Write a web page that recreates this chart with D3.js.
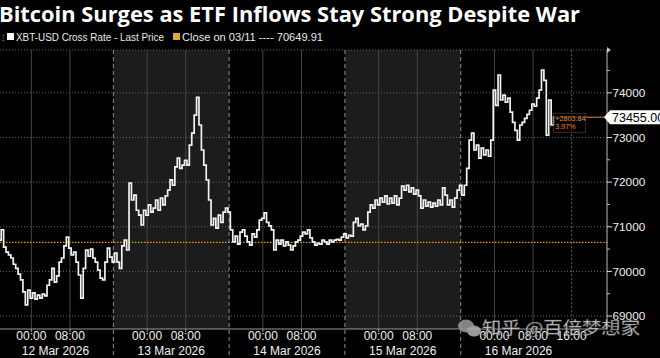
<!DOCTYPE html>
<html><head><meta charset="utf-8">
<script src="https://cdn.jsdelivr.net/npm/d3@7"></script>
<style>html,body{margin:0;padding:0;background:#000;}svg{display:block;}</style>
</head><body>
<svg id="c" width="660" height="358"></svg>
<script>
const title = "Bitcoin Surges as ETF Inflows Stay Strong Despite War";
const seriesName = "XBT-USD Cross Rate - Last Price";
const closeName = "Close on 03/11 ---- 70649.91";
const closeValue = 70649.91;
const lastLabel = "73455.00";
const changeLabels = ["+2803.84", "3.97%"];
const startTime = Date.UTC(2026, 2, 11, 17, 30);
const stepMinutes = 30;
const prices = [
70700,70930,70545,70430,70370,70300,70160,70070,69940,69810,
69540,69250,69580,69400,69520,69380,69470,69400,69490,69450,
69690,69810,70070,69760,69900,70210,70300,70570,70770,70520,
70370,70430,70210,69920,69400,70070,70480,70340,70500,70300,
70210,70030,69850,69810,70210,70520,70320,70210,70410,70210,
70070,70570,70700,70480,71980,71600,71710,71370,71260,71040,
71370,71260,71490,71330,71420,71600,71370,71640,71490,71690,
71820,72050,71930,72340,72540,72310,72380,72490,72380,72830,
73100,73500,73900,73280,72720,72380,72050,71600,71040,71190,
70970,71260,71100,71330,71420,71330,70930,70660,70790,70610,
70880,70930,70790,70660,70590,70840,70770,70930,71150,71190,
71310,71100,71020,70930,70480,70700,70610,70700,70570,70660,
70590,70480,70570,70660,70700,70790,70880,70840,70930,70750,
70660,70590,70630,70610,70700,70660,70610,70700,70660,70700,
70720,70700,70770,70840,70750,70810,70790,71100,71190,71020,
71060,70930,71020,71330,71490,71420,71600,71490,71640,71550,
71690,71510,71640,71530,71690,71490,71640,71910,71820,71930,
71780,71870,71730,71820,71690,71420,71600,71460,71550,71440,
71530,71460,71600,71490,71870,71710,71490,71600,71440,71640,
71820,71930,71710,71930,72310,72940,73100,72720,72830,72540,
72760,72610,72720,72580,72940,74060,73720,74400,73840,73950,
73790,73880,73570,73340,73160,72940,73280,73340,73430,73520,
73610,73750,73700,73880,74060,74510,74280,73050,73840,73280,
73455];
const yTicks = [69000, 70000, 71000, 72000, 73000, 74000];
const dayLabels = ["12 Mar 2026", "13 Mar 2026", "14 Mar 2026", "15 Mar 2026", "16 Mar 2026"];
const dayDates = [12, 13, 14, 15, 16];
const hourTicks = [0, 8];
const lastDayExtraHour = 16;
const shadedDays = [13, 15];
const watermark = "知乎 @百倍梦想家";

const svg = d3.select("#c");
const W = 660, H = 358;
const plot = {left: 0, right: 607, top: 50, bottom: 329};
const data = prices.map((p, i) => ({t: new Date(startTime + i * stepMinutes * 60000), v: p}));

const x = d3.scaleUtc()
  .domain([new Date(Date.UTC(2026, 2, 11, 17, 30)), new Date(Date.UTC(2026, 2, 16, 23, 20))])
  .range([plot.left, plot.right]);
const y = d3.scaleLinear().domain([68710, 74960]).range([plot.bottom, plot.top]);

svg.append("rect").attr("width", W).attr("height", H).attr("fill", "#000");

const g = svg.append("g");
const sess = d => new Date(Date.UTC(2026, 2, d - 1, 17, 0));
shadedDays.forEach(d => {
  g.append("rect").attr("x", x(sess(d))).attr("y", plot.top)
    .attr("width", x(sess(d + 1)) - x(sess(d))).attr("height", plot.bottom - plot.top)
    .attr("fill", "#1c1c1c");
});
const vTicks = [];
dayDates.forEach(d => hourTicks.forEach(h => vTicks.push(new Date(Date.UTC(2026, 2, d, h)))));
vTicks.push(new Date(Date.UTC(2026, 2, 16, lastDayExtraHour)));
g.selectAll(".vg").data(vTicks).enter().append("line")
  .attr("x1", d => x(d)).attr("x2", d => x(d)).attr("y1", plot.top).attr("y2", plot.bottom)
  .attr("stroke", d => d.getUTCHours() === 16 ? "#5a5a5a" : "#444").attr("stroke-width", 1)
  .attr("stroke-dasharray", d => d.getUTCHours() === 16 ? "2,2" : null);
const hGrid = yTicks.concat([y.invert(plot.top)]);
g.selectAll(".hg").data(hGrid).enter().append("line")
  .attr("x1", plot.left).attr("x2", plot.right).attr("y1", d => y(d)).attr("y2", d => y(d))
  .attr("stroke", "#666").attr("stroke-width", 1).attr("stroke-dasharray", "1,2");
const seps = [13, 14, 15, 16].map(sess);
g.selectAll(".sep").data(seps).enter().append("line")
  .attr("x1", d => x(d)).attr("x2", d => x(d)).attr("y1", plot.top).attr("y2", H)
  .attr("stroke", "#8a8a8a").attr("stroke-width", 1).attr("stroke-dasharray", "4,3");
g.append("line").attr("x1", plot.left).attr("x2", plot.right)
  .attr("y1", y(closeValue)).attr("y2", y(closeValue))
  .attr("stroke", "#d69a3a").attr("stroke-width", 1.2).attr("stroke-dasharray", "1.5,1.5");

// price line (stepped, like the terminal's tick rendering)
g.append("path").datum(data)
  .attr("d", d3.line().x(d => x(d.t)).y(d => y(d.v)).curve(d3.curveStep))
  .attr("fill", "none").attr("stroke", "#f2f2f2").attr("stroke-width", 1.7);

const last = data[data.length - 1];
g.append("line").attr("x1", x(last.t)).attr("x2", plot.right + 2)
  .attr("y1", y(last.v)).attr("y2", y(last.v)).attr("stroke", "#d98c4a").attr("stroke-width", 1);
const ax = x(last.t) - 1, ay = y(last.v) - 4;
g.append("rect").attr("x", ax).attr("y", ay).attr("width", 32).attr("height", 19)
  .attr("fill", "#000").attr("fill-opacity", 0.6).attr("stroke", "#6b4a2a").attr("stroke-width", 0.6);
g.append("text").attr("x", ax + 1.5).attr("y", ay + 7.5).text(changeLabels[0])
  .attr("fill", "#e0894a").attr("font-family", "Liberation Sans, Arial").attr("font-size", 7.2);
g.append("text").attr("x", ax + 1.5).attr("y", ay + 16).text(changeLabels[1])
  .attr("fill", "#e0894a").attr("font-family", "Liberation Sans, Arial").attr("font-size", 7.2);

const yAxisG = svg.append("g");
yAxisG.append("line").attr("x1", plot.right).attr("x2", plot.right).attr("y1", plot.top).attr("y2", plot.bottom)
  .attr("stroke", "#bdbdbd").attr("stroke-width", 1);
yAxisG.append("path").attr("d", `M${plot.right},${plot.top - 3}L${plot.right + 4},${plot.top}L${plot.right},${plot.top + 3}Z`)
  .attr("fill", "#bdbdbd");
const minor = d3.range(68500, 75000, 500).filter(v => v > y.domain()[0] && v < y.domain()[1] && v % 1000 !== 0);
yAxisG.selectAll(".mt").data(minor).enter().append("line")
  .attr("x1", plot.right).attr("x2", plot.right + 3).attr("y1", d => y(d)).attr("y2", d => y(d))
  .attr("stroke", "#bdbdbd");
yAxisG.selectAll(".Mt").data(yTicks).enter().append("line")
  .attr("x1", plot.right).attr("x2", plot.right + 5).attr("y1", d => y(d)).attr("y2", d => y(d))
  .attr("stroke", "#dcdcdc");
yAxisG.selectAll(".yl").data(yTicks).enter().append("text")
  .attr("x", plot.right + 5.5).attr("y", d => y(d) + 4.3).text(d => d)
  .attr("fill", "#f0f0f0").attr("font-family", "Liberation Sans, Arial").attr("font-size", 11.8);
const ly = y(last.v);
yAxisG.append("path")
  .attr("d", `M${plot.right - 3},${ly}L${plot.right + 3},${ly - 7}L${W},${ly - 7}L${W},${ly + 7}L${plot.right + 3},${ly + 7}Z`)
  .attr("fill", "#ffffff");
yAxisG.append("text").attr("x", plot.right + 5).attr("y", ly + 4.5).text(lastLabel)
  .attr("fill", "#000").attr("font-family", "Liberation Sans, Arial").attr("font-size", 12.5);

const xAxisG = svg.append("g");
xAxisG.append("line").attr("x1", plot.left).attr("x2", plot.right).attr("y1", plot.bottom).attr("y2", plot.bottom)
  .attr("stroke", "#9a9a9a");
xAxisG.selectAll(".xt").data(vTicks).enter().append("line")
  .attr("x1", d => x(d)).attr("x2", d => x(d)).attr("y1", plot.bottom).attr("y2", plot.bottom + 3)
  .attr("stroke", "#9a9a9a");
xAxisG.selectAll(".xl").data(vTicks).enter().append("text")
  .attr("x", d => x(d)).attr("y", 340).attr("text-anchor", "middle")
  .text(d => d3.utcFormat("%H:%M")(d))
  .attr("fill", "#f0f0f0").attr("font-family", "Liberation Sans, Arial").attr("font-size", 12);
xAxisG.selectAll(".dl").data(dayDates).enter().append("text")
  .attr("x", d => (x(sess(d)) + x(sess(d + 1))) / 2).attr("y", 355).attr("text-anchor", "middle")
  .text((d, i) => dayLabels[i])
  .attr("fill", "#f0f0f0").attr("font-family", "Liberation Sans, Arial").attr("font-size", 12);

svg.append("text").attr("x", -1).attr("y", 22).text(title)
  .attr("fill", "#ffffff").attr("font-family", "Open Sans, Liberation Sans, Arial").attr("font-weight", "bold")
  .attr("font-size", 21).attr("textLength", 581).attr("lengthAdjust", "spacingAndGlyphs");

svg.append("text").attr("x", 2).attr("y", 41).text("⁝").attr("fill", "#999").attr("font-size", 9);
svg.append("rect").attr("x", 7).attr("y", 33).attr("width", 7).attr("height", 7).attr("fill", "#ffffff");
svg.append("text").attr("x", 16).attr("y", 40.5).text(seriesName)
  .attr("fill", "#eaeaea").attr("font-family", "Liberation Sans, Arial").attr("font-size", 10)
  .attr("textLength", 148).attr("lengthAdjust", "spacingAndGlyphs");
svg.append("rect").attr("x", 173).attr("y", 33).attr("width", 7).attr("height", 7).attr("fill", "#e8a22e");
svg.append("text").attr("x", 182).attr("y", 40.5).text(closeName)
  .attr("fill", "#eaeaea").attr("font-family", "Liberation Sans, Arial").attr("font-size", 10)
  .attr("textLength", 141).attr("lengthAdjust", "spacingAndGlyphs");

const wm = svg.append("g").attr("opacity", 0.85);
wm.append("ellipse").attr("cx", 466).attr("cy", 326).attr("rx", 8).attr("ry", 6.5).attr("fill", "#9a9a9a");
wm.append("ellipse").attr("cx", 474).attr("cy", 331).attr("rx", 7).attr("ry", 5.5).attr("fill", "#b5b5b5");
wm.append("text").attr("x", 482).attr("y", 334).text(watermark)
  .attr("fill", "#f2f2f2").attr("stroke", "#555").attr("stroke-width", 0.4)
  .attr("font-family", "Noto Sans CJK SC").attr("font-size", 17)
  .attr("textLength", 158).attr("lengthAdjust", "spacingAndGlyphs");
</script>
</body></html>
